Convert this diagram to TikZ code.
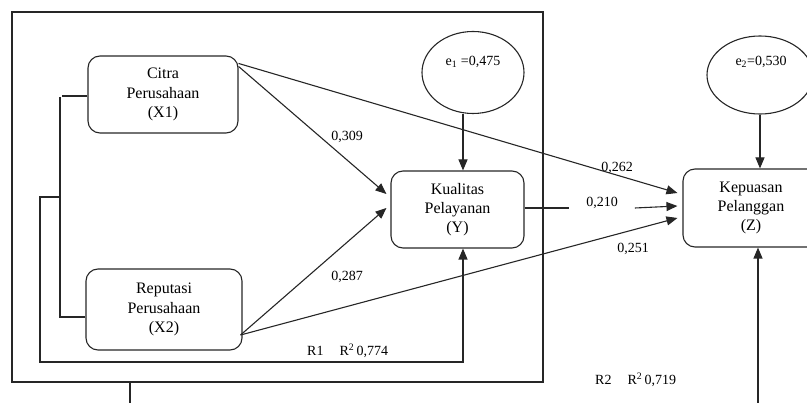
\documentclass[tikz,border=0pt]{standalone}
\usepackage{fontspec}
\setmainfont{Liberation Serif}
\usetikzlibrary{arrows.meta,calc,shapes.geometric}
\begin{document}
\begin{tikzpicture}[x=1pt,y=-1pt,
  ln/.style={line width=1.1pt,draw=black!85},
  arr/.style={ln,-{Triangle[length=11pt,width=9pt]}},
  var/.style={ln,rounded corners=12pt,align=center,inner sep=0pt,
    font=\fontsize{16}{19.3}\selectfont},
  err/.style={ln,ellipse,inner sep=0pt},
  lbl/.style={font=\fontsize{14}{16}\selectfont,inner sep=1pt}]
\useasboundingbox (0,0) rectangle (807,403);
\clip (0,0) rectangle (807,403);
% frame
\node[ln,minimum width=531pt,minimum height=370pt,inner sep=0pt] (frame) at (277.5,197) {};
% variables
\node[var,minimum width=150pt,minimum height=77pt] (citra) at (163,94.5) {Citra\\Perusahaan\\(X1)};
\node[var,minimum width=156pt,minimum height=81pt] (rep) at (164,309.5) {Reputasi\\Perusahaan\\(X2)};
\node[var,minimum width=133pt,minimum height=77pt] (kual) at (457.5,209.5) {Kualitas\\Pelayanan\\(Y)};
\node[var,minimum width=136pt,minimum height=78pt] (kep) at (751,208) {Kepuasan\\Pelanggan\\(Z)};
% errors
\node[err,minimum width=102pt,minimum height=82pt] (e1) at (473,72.5) {};
\node[lbl,font=\fontsize{14}{16}\selectfont] (e1t) at (473,62) {e\textsubscript{1} =0,475};
\node[err,minimum width=106pt,minimum height=78pt] (e2) at (760,75) {};
\node[lbl] (e2t) at (761,62) {e\textsubscript{2}=0,530};
% correlation bracket
\coordinate (bt) at (60,96);
\coordinate (bb) at (60,317);
\coordinate (lj) at (60,197);
\coordinate (lc) at (40,362);
\draw[ln] (bt -| citra.west) -- ($(bt)+(2,0)$);
\draw[ln] ($(bt)+(0,1)$) -- (bb) -- (bb -| rep.west);
\draw[arr] (lj) -| (lc) -| ($(kual.south)+(5.5,0)$);
% paths
\draw[arr] ($(citra.north east)+(0,8)$) -- ($(kep.west)+(-5,-15)$);
\draw[arr] ($(citra.north east)+(0,11)$) -- ($(kual.west)+(-4,-15.5)$);
\draw[arr] ($(rep.east)+(-2,25.5)$) -- ($(kual.west)+(-4,-1.5)$);
\draw[arr] ($(rep.east)+(-2,25.5)$) -- ($(kep.west)+(-5,10)$);
\draw[arr] ($(e1.south)+(-10,0)$) -- ($(kual.north)+(5.5,0)$);
\draw[arr] (e2.south) -- (e2.south |- kep.north);
\coordinate (kb) at (758,406);
\draw[arr] (kb) -- (kb |- kep.south);
\coordinate (ob) at (130,406);
\draw[ln] (frame.south -| ob) -- (ob);
% 0,210 path with gap
\node[lbl,inner xsep=17pt] (l210) at (602,203) {0,210};
\draw[ln] ($(kual.east)+(0,-1.5)$) -- ($(l210.west |- kual.east)+(0,-1.5)$);
\draw[arr] ($(l210.east |- kual.east)+(0,-1.5)$) -- ($(kep.west)+(-5,-2)$);
% labels
\node[lbl] (l309) at (347,137) {0,309};
\node[lbl] (l287) at (347,277) {0,287};
\node[lbl] (l262) at (617,168) {0,262};
\node[lbl] (l251) at (633,249) {0,251};
\node[lbl,anchor=base west] (r1) at (306,356) {R1\hspace{16pt}R\textsuperscript{2}\,0,774};
\node[lbl,anchor=base west] (r2) at (594,385) {R2\hspace{16pt}R\textsuperscript{2}\,0,719};
\end{tikzpicture}
\end{document}
